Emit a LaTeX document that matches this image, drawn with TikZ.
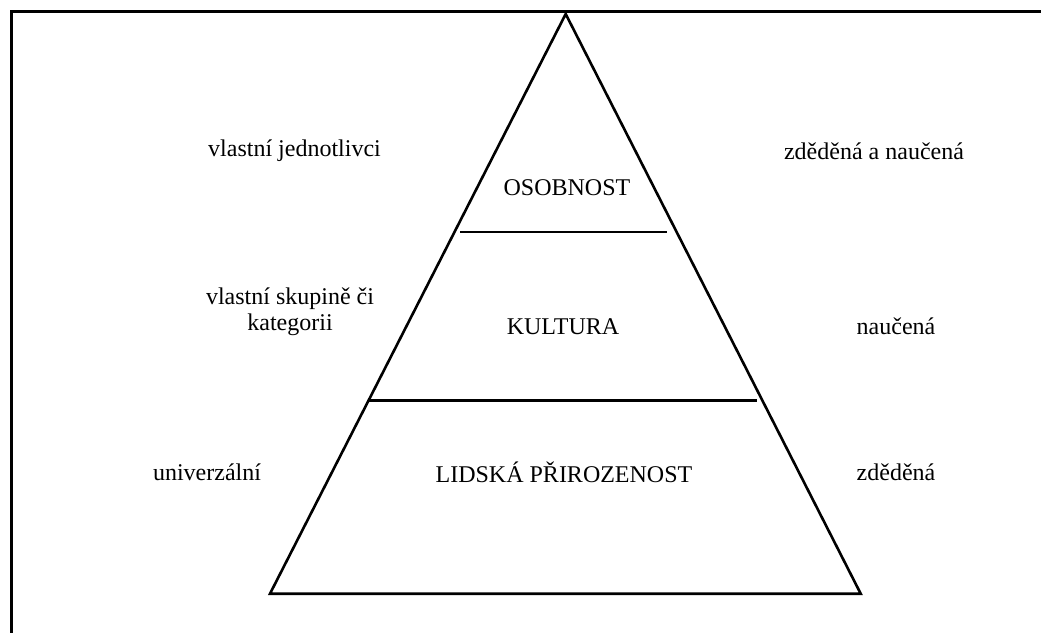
\documentclass[tikz,border=0pt]{standalone}
\usepackage{fontspec}
\setmainfont{Liberation Serif}
\begin{document}
\begin{tikzpicture}[x=1pt,y=-1pt,
  frame/.style={line width=2.8pt,line cap=butt},
  edge/.style={line width=2.6pt,line join=miter},
  divider/.style={line width=2.6pt},
  lbl/.style={font=\fontsize{24}{26}\selectfont,anchor=base,inner sep=0pt}]
  \useasboundingbox (0,0) rectangle (1041,632);
  % frame, only top and left edges are inside the sheet
  \draw[frame] (11.5,640) -- (11.5,11.5) -- (1050,11.5);
  % pyramid
  \coordinate (apex) at (565.7,14);
  \coordinate (bl) at (270,593.7);
  \coordinate (br) at (860.7,593.7);
  \draw[edge] (apex) -- (bl) -- (br) -- cycle;
  % dividers between the levels
  \coordinate (d1l) at (460,232);
  \coordinate (d1r) at (666.7,232);
  \coordinate (d2l) at (369,400.7);
  \coordinate (d2r) at (757.3,400.7);
  \draw[divider] (d1l) -- (d1r);
  \draw[divider] (d2l) -- (d2r);
  % level names
  \node[lbl] (osob) at (567,195) {OSOBNOST};
  \node[lbl] (kult) at (563,334) {KULTURA};
  \node[lbl] (lids) at (564,482) {LIDSKÁ PŘIROZENOST};
  % left column
  \node[lbl] (l1) at (294.5,156) {vlastní jednotlivci};
  \node[lbl,align=center] (l2) at (290,330) {vlastní skupině či\\kategorii};
  \node[lbl] (l3) at (207,480) {univerzální};
  % right column
  \node[lbl] (r1) at (874,159) {zděděná a naučená};
  \node[lbl] (r2) at (896,334) {naučená};
  \node[lbl] (r3) at (896,480) {zděděná};
\end{tikzpicture}
\end{document}
